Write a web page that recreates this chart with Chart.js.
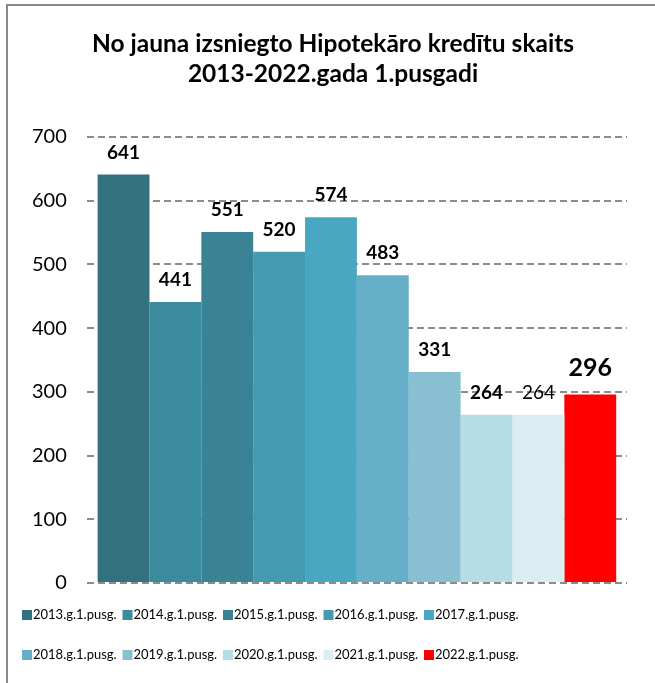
<!DOCTYPE html>
<html>
<head>
<meta charset="utf-8">
<script src="https://cdn.jsdelivr.net/npm/chart.js@4"></script>
<style>
  body { margin: 0; background: #fff; }
  canvas { display: block; }
</style>
</head>
<body>
<canvas id="graph" width="655" height="683"></canvas>
<script>
const titleLines = ['No jauna izsniegto Hipotekāro kredītu skaits', '2013-2022.gada 1.pusgadi'];
const seriesNames = ['2013.g.1.pusg.', '2014.g.1.pusg.', '2015.g.1.pusg.', '2016.g.1.pusg.', '2017.g.1.pusg.',
  '2018.g.1.pusg.', '2019.g.1.pusg.', '2020.g.1.pusg.', '2021.g.1.pusg.', '2022.g.1.pusg.'];
const values = [641, 441, 551, 520, 574, 483, 331, 264, 264, 296];
const colors = ['#33717f', '#3b8b9e', '#398394', '#439ab1', '#4aa7c1', '#65b0c8', '#88c0d1', '#b6dce6', '#daedf2', '#ff0000'];
const yTicks = [0, 100, 200, 300, 400, 500, 600, 700];

const FONT = 'Lato, "Open Sans", sans-serif';

const datasets = seriesNames.map((name, i) => ({
  label: name,
  data: [values[i]],
  backgroundColor: colors[i],
  borderWidth: 0,
}));

// frame, title, data labels and legend drawn by hand
const extras = {
  id: 'extras',
  beforeDraw(chart) {
    const ctx = chart.ctx;
    ctx.save();
    ctx.strokeStyle = '#8a8a8a';
    ctx.lineWidth = 2;
    ctx.strokeRect(7, 5, 700, 700);

    ctx.fillStyle = '#000';
    ctx.textAlign = 'center';
    ctx.textBaseline = 'middle';
    ctx.font = 'bold 24.5px ' + FONT;
    titleLines.forEach((t, i) => ctx.fillText(t, 333, 44 + i * 30));
    ctx.restore();
  },
  afterDatasetsDraw(chart) {
    const ctx = chart.ctx;
    ctx.save();
    ctx.textAlign = 'center';
    ctx.textBaseline = 'middle';
    ctx.fillStyle = '#000';
    chart.data.datasets.forEach((ds, i) => {
      const bar = chart.getDatasetMeta(i).data[0];
      const last = i === values.length - 1;
      const weight = i === 8 ? 'normal' : 'bold';
      const size = last ? 25 : 19;
      ctx.font = weight + ' ' + size + 'px ' + FONT;
      ctx.fillText(String(values[i]), bar.x, bar.y - (last ? 26 : 22));
    });

    // legend: 2 rows x 5
    ctx.textAlign = 'left';
    ctx.font = '13px ' + FONT;
    seriesNames.forEach((name, i) => {
      const col = i % 5;
      const row = Math.floor(i / 5);
      const x = 22 + col * 100.5;
      const y = chart.chartArea.bottom + 32 + row * 40;
      ctx.fillStyle = colors[i];
      ctx.fillRect(x, y - 5, 10, 10);
      ctx.fillStyle = '#000';
      ctx.fillText(name, x + 11, y);
    });
    ctx.restore();
  }
};

new Chart(document.getElementById('graph'), {
  type: 'bar',
  data: { labels: [''], datasets },
  options: {
    responsive: false,
    animation: false,
    layout: { padding: { left: 12, right: 28, top: 137, bottom: 100 } },
    datasets: { bar: { categoryPercentage: 0.96, barPercentage: 1.0 } },
    plugins: {
      legend: { display: false },
      tooltip: { enabled: false },
      title: { display: false },
    },
    scales: {
      x: { display: false },
      y: {
        min: 0,
        max: 700,
        afterBuildTicks: (axis) => { axis.ticks = yTicks.map(v => ({ value: v })); },
        ticks: { color: '#000', font: { family: FONT, size: 20 }, padding: 20 },
        grid: { color: '#8c8c8c', lineWidth: 2, drawTicks: false },
        border: { display: false, dash: [7, 4] },
      },
    },
  },
  plugins: [extras],
});
</script>
</body>
</html>
